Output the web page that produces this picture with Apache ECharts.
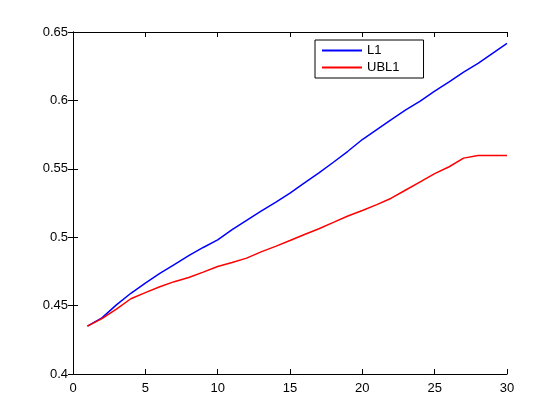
<!DOCTYPE html>
<html>
<head>
<meta charset="utf-8">
<script src="https://cdn.jsdelivr.net/npm/echarts@6/dist/echarts.min.js"></script>
<style>
  html, body { margin: 0; padding: 0; background: #fff; }
  #chart { width: 560px; height: 420px; }
</style>
</head>
<body>
<div id="chart"></div>
<script>
const xs = [1, 2, 3, 4, 5, 6, 7, 8, 9, 10, 11, 12, 13, 14, 15, 16, 17, 18, 19, 20, 21, 22, 23, 24, 25, 26, 27, 28, 29, 30]
const l1 = [0.435, 0.441, 0.4505, 0.459, 0.4665, 0.4735, 0.480, 0.4865, 0.4925, 0.498,
  0.5055, 0.5123, 0.519, 0.5255, 0.5323, 0.5397, 0.547, 0.5548, 0.5628, 0.5714,
  0.5787, 0.586, 0.593, 0.5995, 0.6068, 0.6136, 0.6207, 0.6271, 0.6344, 0.6417]
const ubl1 = [0.435, 0.4405, 0.4475, 0.455, 0.4595, 0.4638, 0.4675, 0.4705, 0.4745, 0.4786,
  0.4815, 0.4847, 0.4893, 0.4933, 0.4976, 0.502, 0.5062, 0.5108, 0.5155, 0.5195,
  0.5238, 0.5285, 0.5345, 0.5405, 0.5465, 0.5515, 0.5578, 0.5597, 0.5597, 0.5597]
const seriesNames = ['L1', 'UBL1']

const chart = echarts.init(document.getElementById('chart'))

const font = { fontFamily: 'Liberation Sans, Arial, sans-serif', fontSize: 13, color: '#000' }
const axisBase = {
  axisLine: { show: true, lineStyle: { color: '#000', width: 1 } },
  axisTick: { show: true, inside: true, length: 5, lineStyle: { color: '#000' } },
  splitLine: { show: false }
}

const option = {
  animation: false,
  backgroundColor: '#fff',
  grid: { left: 73, right: 53, top: 32, bottom: 46 },
  legend: {
    orient: 'vertical',
    left: 315,
    top: 40,
    data: seriesNames,
    icon: 'rect',
    itemWidth: 40,
    itemHeight: 2,
    itemGap: 4,
    padding: [4, 24, 4, 7],
    borderColor: '#000',
    borderWidth: 1,
    backgroundColor: '#fff',
    textStyle: { ...font }
  },
  xAxis: [
    {
      ...axisBase,
      type: 'value', min: 0, max: 30, interval: 5,
      axisLabel: { ...font, margin: 8 }
    },
    {
      ...axisBase,
      type: 'value', position: 'top', min: 0, max: 30, interval: 5,
      axisLabel: { show: false }
    }
  ],
  yAxis: [
    {
      ...axisBase,
      type: 'value', min: 0.4, max: 0.65, interval: 0.05,
      axisLabel: { ...font, margin: 5, formatter: v => String(+v.toFixed(2)) }
    },
    {
      ...axisBase,
      type: 'value', position: 'right', min: 0.4, max: 0.65, interval: 0.05,
      axisLabel: { show: false }
    }
  ],
  series: [
    {
      name: seriesNames[0],
      type: 'line',
      symbol: 'none',
      data: xs.map((x, i) => [x, l1[i]]),
      lineStyle: { color: '#0000ff', width: 1.5 },
      itemStyle: { color: '#0000ff' }
    },
    {
      name: seriesNames[1],
      type: 'line',
      symbol: 'none',
      data: xs.map((x, i) => [x, ubl1[i]]),
      lineStyle: { color: '#ff0000', width: 1.5 },
      itemStyle: { color: '#ff0000' }
    }
  ]
}

chart.setOption(option)
</script>
</body>
</html>
